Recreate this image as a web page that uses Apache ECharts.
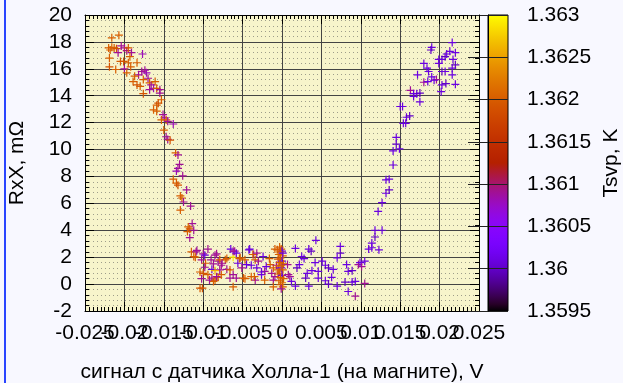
<!DOCTYPE html>
<html>
<head>
<meta charset="utf-8">
<script src="https://cdn.jsdelivr.net/npm/echarts@6/dist/echarts.min.js"></script>
<style>
  html, body { margin: 0; padding: 0; background: #f8f8ff; }
  #chart { width: 623px; height: 383px; }
</style>
</head>
<body>
<div id="chart"></div>
<script>
// each point: [signal, V ; RxX, mOhm ; Tsvp, K]
const leftBranch = [
  [-0.0216, 18.3, 1.3620], [-0.0207, 18.5, 1.3620], [-0.0220, 17.55, 1.3620], [-0.0216, 17.6, 1.3620],
  [-0.0213, 17.55, 1.3620], [-0.0210, 17.5, 1.3619], [-0.0218, 17.4, 1.3620], [-0.0204, 17.7, 1.3609],
  [-0.0200, 17.55, 1.3609], [-0.0197, 17.35, 1.3610], [-0.0195, 17.55, 1.3620], [-0.0208, 17.2, 1.3609],
  [-0.0191, 17.2, 1.3609], [-0.0177, 17.1, 1.3608], [-0.0219, 16.8, 1.3620], [-0.0205, 16.55, 1.3620],
  [-0.0201, 16.55, 1.3619], [-0.0193, 16.9, 1.3620], [-0.0184, 16.45, 1.3620], [-0.0195, 16.45, 1.3620],
  [-0.0219, 16.15, 1.3619], [-0.0211, 15.95, 1.3620], [-0.0200, 16.0, 1.3609], [-0.0197, 15.7, 1.3620],
  [-0.0192, 16.15, 1.3620], [-0.0178, 15.8, 1.3609], [-0.0174, 15.9, 1.3609], [-0.0172, 15.7, 1.3608],
  [-0.0182, 15.55, 1.3609], [-0.0187, 15.45, 1.3620], [-0.0189, 15.05, 1.3620], [-0.0184, 14.8, 1.3619],
  [-0.0180, 14.7, 1.3620], [-0.0176, 15.2, 1.3620], [-0.0170, 15.3, 1.3609], [-0.0168, 14.95, 1.3620],
  [-0.0166, 14.8, 1.3609], [-0.0163, 14.55, 1.3608], [-0.0168, 14.45, 1.3609], [-0.0161, 15.05, 1.3620],
  [-0.0159, 14.55, 1.3620], [-0.0176, 14.15, 1.3619], [-0.0155, 14.45, 1.3609], [-0.0155, 14.2, 1.3609],
  [-0.0153, 13.7, 1.3620], [-0.0159, 13.3, 1.3620], [-0.0157, 13.45, 1.3619], [-0.0163, 12.95, 1.3620],
  [-0.0159, 12.85, 1.3620], [-0.0151, 12.6, 1.3609], [-0.0149, 12.35, 1.3609], [-0.0153, 12.2, 1.3620],
  [-0.0147, 12.2, 1.3620], [-0.0145, 12.1, 1.3609], [-0.0138, 11.9, 1.3608], [-0.0150, 11.45, 1.3620],
  [-0.0147, 10.95, 1.3609], [-0.0145, 10.75, 1.3609], [-0.0142, 10.7, 1.3619],
  [-0.0135, 9.75, 1.3620], [-0.0132, 9.6, 1.3609], [-0.0130, 8.9, 1.3609], [-0.0132, 8.6, 1.3609],
  [-0.0134, 8.4, 1.3608], [-0.0126, 8.05, 1.3609], [-0.0138, 7.8, 1.3620], [-0.0134, 7.5, 1.3620],
  [-0.0132, 7.35, 1.3619], [-0.0121, 7.0, 1.3609], [-0.0129, 6.55, 1.3620], [-0.0127, 6.4, 1.3620],
  [-0.0125, 6.1, 1.3609], [-0.0116, 5.8, 1.3609], [-0.0129, 5.5, 1.3620], [-0.0114, 4.5, 1.3609],
  [-0.0119, 4.25, 1.3620], [-0.0117, 4.1, 1.3619], [-0.0112, 4.0, 1.3609], [-0.0120, 3.9, 1.3620],
  [-0.0117, 3.45, 1.3609], [-0.0115, 2.4, 1.3620], [-0.0109, 2.4, 1.3609], [-0.0112, 2.05, 1.3620]
];

const bottomLeft = [
  [-0.0108, 2.5, 1.3609], [-0.0110, 2.0, 1.3620], [-0.0094, 2.6, 1.3609], [-0.0100, 2.25, 1.3609],
  [-0.0098, 2.15, 1.3601], [-0.0102, 1.8, 1.3609], [-0.0097, 1.55, 1.3620], [-0.0090, 1.8, 1.3609],
  [-0.0085, 2.15, 1.3609], [-0.0083, 2.25, 1.3609], [-0.0081, 1.7, 1.3609], [-0.0077, 1.4, 1.3609],
  [-0.0072, 1.8, 1.3620], [-0.0070, 1.1, 1.3609], [-0.0065, 2.6, 1.3601], [-0.0062, 2.0, 1.3629],
  [-0.0060, 2.45, 1.3609], [-0.0056, 1.55, 1.3601], [-0.0053, 1.95, 1.3620], [-0.0051, 1.2, 1.3609],
  [-0.0047, 1.8, 1.3620], [-0.0041, 2.6, 1.3601], [-0.0045, 1.45, 1.3601], [-0.0036, 2.2, 1.3609],
  [-0.0034, 1.8, 1.3620], [-0.0032, 1.2, 1.3601], [-0.0030, 1.7, 1.3609], [-0.0024, 2.05, 1.3601],
  [-0.0026, 0.7, 1.3601], [-0.0022, 0.95, 1.3609], [-0.0015, 1.45, 1.3620], [-0.0011, 1.2, 1.3620],
  [-0.0009, 2.6, 1.3620], [-0.0011, 0.3, 1.3609], [-0.0034, 0.3, 1.3609], [-0.0062, -0.2, 1.3620],
  [-0.0081, 0.5, 1.3620], [-0.0089, 0.45, 1.3609], [-0.0094, 0.7, 1.3620], [-0.0104, -0.3, 1.3620],
  [-0.0101, -0.3, 1.3619], [-0.0087, 0.2, 1.3620], [-0.0077, 0.7, 1.3620], [-0.0066, 0.45, 1.3609],
  [-0.0058, 0.45, 1.3609], [-0.0049, 0.45, 1.3620], [-0.0039, 0.55, 1.3620], [-0.0104, 0.9, 1.3620],
  [-0.0100, 0.8, 1.3619], [-0.0098, 1.25, 1.3609], [-0.0089, 1.1, 1.3601], [-0.0087, 1.5, 1.3609],
  [-0.0102, 0.4, 1.3609], [-0.0092, 0.3, 1.3609], [-0.0085, 0.3, 1.3620], [-0.0083, 0.55, 1.3609],
  [-0.0079, 1.8, 1.3620], [-0.0076, 1.55, 1.3609], [-0.0070, 1.9, 1.3620], [-0.0079, 1.05, 1.3609],
  [-0.0066, 1.05, 1.3620], [-0.0062, 0.7, 1.3609], [-0.0062, 2.45, 1.3609], [-0.0058, 2.3, 1.3601],
  [-0.0054, 1.9, 1.3620], [-0.0047, 0.4, 1.3620], [-0.0042, 2.55, 1.3601], [-0.0039, 1.4, 1.3601],
  [-0.0037, 2.2, 1.3620], [-0.0032, 2.3, 1.3609], [-0.0035, 0.55, 1.3620], [-0.0026, 0.9, 1.3601],
  [-0.0022, 0.3, 1.3620], [-0.0020, 1.3, 1.3601], [-0.0016, 1.9, 1.3620], [-0.0013, 0.8, 1.3609],
  [-0.0011, -0.2, 1.3620], [-0.0009, 0.55, 1.3609], [-0.0007, 1.4, 1.3609], [-0.0005, 1.05, 1.3620],
  [-0.0085, 1.0, 1.3626]
];

const zeroCluster = [
  [-0.0003, 2.75, 1.3620], [-0.0001, 2.6, 1.3619], [0.0000, 2.45, 1.3601], [-0.0002, 2.4, 1.3620],
  [-0.0004, 2.2, 1.3620], [0.0001, 2.1, 1.3621], [-0.0002, 1.95, 1.3620], [-0.0005, 1.85, 1.3619],
  [0.0000, 1.7, 1.3601], [-0.0003, 1.6, 1.3620], [0.0002, 1.5, 1.3620], [-0.0004, 1.35, 1.3621],
  [-0.0001, 1.2, 1.3601], [0.0001, 1.05, 1.3620], [-0.0003, 0.9, 1.3620], [-0.0005, 0.75, 1.3619],
  [0.0000, 0.65, 1.3601], [-0.0002, 0.5, 1.3620], [0.0002, 0.4, 1.3620], [-0.0004, 0.25, 1.3620],
  [0.0000, 0.1, 1.3621], [-0.0002, -0.05, 1.3620], [0.0001, -0.2, 1.3620], [-0.0001, -0.35, 1.3609],
  [0.0007, 1.45, 1.3609], [0.0008, 0.7, 1.3609], [0.0010, 0.55, 1.3609], [-0.0006, 2.55, 1.3620],
  [0.0001, 2.3, 1.3601], [-0.0001, 1.4, 1.3620]
];

const bottomRight = [
  [0.0017, 2.65, 1.3601], [0.0034, 2.6, 1.3601], [0.0037, 2.45, 1.3600], [0.0043, 3.25, 1.3601],
  [0.0074, 2.8, 1.3601], [0.0074, 2.3, 1.3600], [0.0025, 2.05, 1.3601], [0.0022, 1.45, 1.3601],
  [0.0019, 1.2, 1.3600], [0.0070, 1.95, 1.3601], [0.0051, 1.7, 1.3601], [0.0055, 1.4, 1.3601],
  [0.0059, 1.2, 1.3600], [0.0046, 0.95, 1.3601], [0.0038, 1.0, 1.3601], [0.0032, 0.8, 1.3601],
  [0.0030, 0.45, 1.3600], [0.0065, 1.1, 1.3601], [0.0082, 1.45, 1.3601], [0.0084, 0.95, 1.3601],
  [0.0089, 1.0, 1.3600], [0.0097, 1.45, 1.3609], [0.0101, 1.3, 1.3609], [0.0105, 1.7, 1.3601],
  [0.0099, 1.6, 1.3601], [0.0046, 0.45, 1.3601], [0.0055, 0.25, 1.3601], [0.0059, 0.0, 1.3600],
  [0.0034, -0.15, 1.3601], [0.0017, -0.15, 1.3601], [0.0070, -0.15, 1.3601], [0.0080, 0.15, 1.3600],
  [0.0089, 0.15, 1.3601], [0.0093, 0.2, 1.3601], [0.0084, -0.55, 1.3601], [0.0093, -0.9, 1.3609],
  [0.0105, 0.05, 1.3609], [0.0042, 1.6, 1.3601], [0.0028, 1.9, 1.3601], [0.0063, 0.5, 1.3601],
  [0.0012, 0.2, 1.3601]
];

const rightBranch = [
  [0.0110, 2.6, 1.3601], [0.0114, 2.7, 1.3601], [0.0123, 2.55, 1.3601], [0.0114, 3.05, 1.3601],
  [0.0118, 3.5, 1.3600], [0.0118, 4.0, 1.3601], [0.0127, 4.0, 1.3601], [0.0122, 5.4, 1.3601],
  [0.0127, 6.05, 1.3601], [0.0132, 6.75, 1.3601], [0.0136, 7.0, 1.3600], [0.0132, 7.75, 1.3601],
  [0.0136, 7.8, 1.3601], [0.0141, 8.85, 1.3601], [0.0141, 9.9, 1.3601], [0.0145, 10.4, 1.3600],
  [0.0149, 10.05, 1.3601], [0.0145, 10.9, 1.3601], [0.0154, 11.95, 1.3601], [0.0157, 11.95, 1.3601],
  [0.0158, 12.4, 1.3601], [0.0162, 12.5, 1.3600], [0.0150, 13.2, 1.3601], [0.0153, 13.2, 1.3601],
  [0.0175, 13.55, 1.3601], [0.0167, 13.95, 1.3601], [0.0163, 14.4, 1.3609], [0.0167, 14.15, 1.3601],
  [0.0171, 14.15, 1.3601], [0.0175, 14.2, 1.3600], [0.0202, 14.3, 1.3601], [0.0180, 15.0, 1.3609],
  [0.0185, 15.05, 1.3601], [0.0203, 14.8, 1.3601], [0.0208, 14.9, 1.3600], [0.0220, 14.85, 1.3601],
  [0.0172, 15.55, 1.3601], [0.0190, 15.4, 1.3601], [0.0196, 15.2, 1.3609], [0.0193, 15.15, 1.3601],
  [0.0216, 15.55, 1.3601], [0.0186, 15.8, 1.3601], [0.0203, 15.8, 1.3600], [0.0207, 15.8, 1.3601],
  [0.0184, 16.05, 1.3601], [0.0180, 16.4, 1.3601], [0.0216, 16.05, 1.3601], [0.0220, 16.3, 1.3600],
  [0.0199, 16.4, 1.3601], [0.0199, 16.7, 1.3601], [0.0203, 16.7, 1.3601], [0.0217, 16.7, 1.3601],
  [0.0207, 16.9, 1.3600], [0.0209, 17.1, 1.3601], [0.0213, 17.3, 1.3601], [0.0220, 17.2, 1.3601],
  [0.0190, 17.6, 1.3601], [0.0189, 17.4, 1.3600], [0.0216, 17.95, 1.3601]
];

const xRange = [-0.025, 0.025, 0.005];   // min, max, step
const yRange = [-2, 20, 2];
const cbRange = [1.3595, 1.363, 0.0005];
// x tick labels, split in two rows of alternate ticks so none gets dropped
const xLabelsOdd = [-0.025, -0.015, -0.005, 0.005, 0.015, 0.025];
const xLabelsEven = [-0.02, -0.01, 0, 0.01, 0.02];

const xTitle = 'сигнал с датчика Холла-1 (на магните), V';
const yTitle = 'RxX, mΩ';
const cbTitle = 'Tsvp, K';

// gnuplot default pm3d palette (rgbformulae 7,5,15)
function gpColor(t) {
  const r = Math.round(255 * Math.sqrt(t));
  const g = Math.round(255 * t * t * t);
  const b = Math.round(255 * Math.max(0, Math.sin(2 * Math.PI * t)));
  return 'rgb(' + r + ',' + g + ',' + b + ')';
}
const paletteColors = [];
for (let i = 0; i <= 40; i++) paletteColors.push(gpColor(i / 40));
const barStops = paletteColors.map((c, i) => ({ offset: 1 - i / 40, color: c })).reverse();

const FONT = 'Liberation Sans';
const FS = 21;
const plusPath = 'path://M3.4,0H4.6V3.4H8V4.6H4.6V8H3.4V4.6H0V3.4H3.4Z';

const allPoints = [].concat(leftBranch, bottomLeft, zeroCluster, bottomRight, rightBranch);

const chart = echarts.init(document.getElementById('chart'), null, { renderer: 'canvas' });

const black = { color: '#000', width: 1 };
const tickFont = { color: '#000', fontSize: FS, fontFamily: FONT };

const option = {
  backgroundColor: '#f8f8ff',
  animation: false,
  textStyle: { fontFamily: FONT, color: '#000' },
  grid: [
    { left: 85, top: 15, width: 394, height: 296, show: true, backgroundColor: '#f7f4cb',
      borderWidth: 0, containLabel: false, outerBoundsMode: 'none' },
    { left: 488, top: 15, width: 20, height: 296, containLabel: false, outerBoundsMode: 'none' }
  ],
  visualMap: {
    type: 'continuous', show: false, seriesIndex: 0, dimension: 2,
    min: cbRange[0], max: cbRange[1],
    inRange: { color: paletteColors }
  },
  xAxis: [
    {
      gridIndex: 0, type: 'value', position: 'bottom',
      min: xRange[0], max: xRange[1], interval: xRange[2],
      axisLine: { show: true, onZero: false, lineStyle: black },
      axisTick: { show: true, inside: true, length: 9, lineStyle: black },
      minorTick: { show: true, splitNumber: 10, length: 4, lineStyle: black },
      splitLine: { show: true, lineStyle: { color: '#444', width: 1 } },
      axisLabel: { ...tickFont, margin: 12, customValues: xLabelsOdd, hideOverlap: false },
      name: xTitle, nameLocation: 'middle', nameGap: 51,
      nameTextStyle: { fontSize: FS, fontFamily: FONT, color: '#000' }
    },
    {
      gridIndex: 0, type: 'value', position: 'top',
      min: xRange[0], max: xRange[1], interval: xRange[2],
      axisLine: { show: true, onZero: false, lineStyle: black },
      axisTick: { show: true, inside: true, length: 9, lineStyle: black },
      minorTick: { show: true, splitNumber: 10, length: 4, lineStyle: black },
      splitLine: { show: false },
      axisLabel: { show: false }
    },
    { gridIndex: 1, type: 'value', min: 0, max: 1, show: false },
    {
      gridIndex: 0, type: 'value', position: 'bottom',
      min: xRange[0], max: xRange[1], interval: xRange[2],
      axisLine: { show: false, onZero: false },
      axisTick: { show: false },
      splitLine: { show: false },
      axisLabel: { ...tickFont, margin: 12, customValues: xLabelsEven, hideOverlap: false }
    }
  ],
  yAxis: [
    {
      gridIndex: 0, type: 'value', position: 'left',
      min: yRange[0], max: yRange[1], interval: yRange[2],
      axisLine: { show: true, onZero: false, lineStyle: black },
      axisTick: { show: true, inside: true, length: 9, lineStyle: black },
      minorTick: { show: true, splitNumber: 5, length: 4, lineStyle: black },
      splitLine: { show: true, lineStyle: { color: '#444', width: 1 } },
      minorSplitLine: { show: true, lineStyle: { color: '#555', width: 1, type: [1, 3], opacity: 0.55 } },
      axisLabel: { ...tickFont, margin: 13, showMinLabel: true, showMaxLabel: true },
      name: yTitle, nameLocation: 'middle', nameGap: 57,
      nameTextStyle: { fontSize: FS, fontFamily: FONT, color: '#000' }
    },
    {
      gridIndex: 0, type: 'value', position: 'right',
      min: yRange[0], max: yRange[1], interval: yRange[2],
      axisLine: { show: true, onZero: false, lineStyle: black },
      axisTick: { show: true, inside: true, length: 9, lineStyle: black },
      minorTick: { show: true, splitNumber: 5, length: 4, lineStyle: black },
      splitLine: { show: false },
      axisLabel: { show: false }
    },
    {
      gridIndex: 1, type: 'value', position: 'right',
      min: cbRange[0], max: cbRange[1], interval: cbRange[2],
      axisLine: { show: true, lineStyle: black },
      axisTick: { show: true, inside: true, length: 20, lineStyle: { color: '#222', width: 1 } },
      splitLine: { show: true, lineStyle: { color: '#222', width: 1 } },
      axisLabel: { ...tickFont, margin: 19, showMinLabel: true, showMaxLabel: true },
      name: cbTitle, nameLocation: 'middle', nameGap: 93,
      nameTextStyle: { fontSize: FS, fontFamily: FONT, color: '#000' }
    }
  ],
  graphic: [
    { type: 'line', shape: { x1: 5, y1: 0, x2: 5, y2: 383 }, style: { stroke: '#2a45ff', lineWidth: 2 }, silent: true }
  ],
  series: [
    {
      type: 'scatter', xAxisIndex: 0, yAxisIndex: 0,
      symbol: plusPath, symbolSize: 8,
      itemStyle: { opacity: 1 },
      data: allPoints
    },
    {
      type: 'custom', xAxisIndex: 2, yAxisIndex: 2, silent: true, z: -1,
      data: [[0, cbRange[0], cbRange[1]]],
      renderItem: function (params, api) {
        const lo = api.coord([0, api.value(1)]);
        const hi = api.coord([1, api.value(2)]);
        return {
          type: 'rect',
          shape: { x: lo[0], y: hi[1], width: hi[0] - lo[0], height: lo[1] - hi[1] },
          style: {
            fill: new echarts.graphic.LinearGradient(0, 0, 0, 1, barStops),
            stroke: '#000', lineWidth: 1
          }
        };
      }
    }
  ]
};

chart.setOption(option);
</script>
</body>
</html>
